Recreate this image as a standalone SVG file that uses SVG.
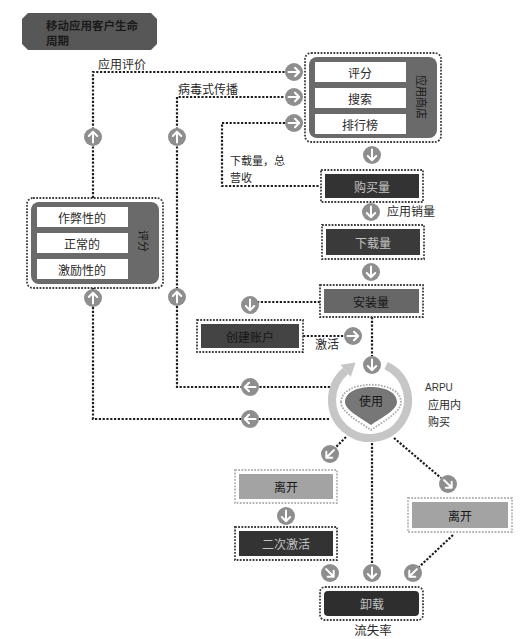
<svg xmlns="http://www.w3.org/2000/svg" width="532" height="639" viewBox="0 0 532 639">
<defs>
<style>
.t{font-family:"Noto Sans CJK SC","Noto Sans",sans-serif;font-size:12px;fill:#2a2a2a;text-anchor:middle;dominant-baseline:central}
.tl{fill:#c2c2c2}
.tk{fill:#161616}
.lb{font-family:"Noto Sans CJK SC","Noto Sans",sans-serif;font-size:12px;fill:#2a2a2a}
.sm{font-size:11px}
.dot{fill:none;stroke:#1e1e1e;stroke-width:2.2;stroke-dasharray:2.2 1.6}
.bd{fill:none;stroke:#3e3e3e;stroke-width:1.8;stroke-dasharray:1.8 1.4}
.bdl{fill:none;stroke:#b4b4b4;stroke-width:1.8;stroke-dasharray:1.8 1.4}
.wr{fill:#fff}
.pn{fill:#6a6a6a}
</style>
<g id="arr">
<circle r="9" fill="#8e8e8e"/>
<path d="M0,-5.5V5M-4.2,1L0,5.2L4.2,1" fill="none" stroke="#fff" stroke-width="2" stroke-linecap="round" stroke-linejoin="round"/>
</g>
</defs>
<rect width="532" height="639" fill="#fff"/>

<g id="title">
<polygon points="28,13 151,13 157,19 157,44 151,50 28,50 22,44 22,19" fill="#575757"/>
<text class="lb" x="46" y="30" style="font-weight:bold;font-size:11.5px;fill:#1a1a1a">移动应用客户生命</text>
<text class="lb" x="46" y="45" style="font-weight:bold;font-size:11.5px;fill:#1a1a1a">周期</text>
</g>

<g id="connectors">
<path class="dot" d="M93,198V72H285"/>
<path class="dot" d="M330,387H177V97H285"/>
<path class="dot" d="M93,288V419H330"/>
<path class="dot" d="M285,123H222V186H320"/>
<path class="dot" d="M320,302H258"/>
<path class="dot" d="M303,336H344"/>
<path class="dot" d="M372,317V356"/>
<path class="dot" d="M346,437L336,447"/>
<path class="dot" d="M372,443V564"/>
<path class="dot" d="M394,438L441,478"/>
<path class="dot" d="M453,535L419,567"/>
<use href="#arr" transform="translate(294,72) rotate(-90)"/>
<use href="#arr" transform="translate(294,97) rotate(-90)"/>
<use href="#arr" transform="translate(294,123) rotate(-90)"/>
<use href="#arr" transform="translate(353,336) rotate(-90)"/>
<use href="#arr" transform="translate(372,155)"/>
<use href="#arr" transform="translate(371,212)"/>
<use href="#arr" transform="translate(371,272)"/>
<use href="#arr" transform="translate(250,305)"/>
<use href="#arr" transform="translate(372,365)"/>
<use href="#arr" transform="translate(286,516)"/>
<use href="#arr" transform="translate(372,573)"/>
<use href="#arr" transform="translate(93,137) rotate(180)"/>
<use href="#arr" transform="translate(177,137) rotate(180)"/>
<use href="#arr" transform="translate(93,298) rotate(180)"/>
<use href="#arr" transform="translate(177,297) rotate(180)"/>
<use href="#arr" transform="translate(250,387) rotate(90)"/>
<use href="#arr" transform="translate(250,419) rotate(90)"/>
<use href="#arr" transform="translate(330,454) rotate(45)"/>
<use href="#arr" transform="translate(413,573) rotate(45)"/>
<use href="#arr" transform="translate(448,484) rotate(-45)"/>
<use href="#arr" transform="translate(330,573) rotate(-45)"/>
<text class="lb" x="98" y="69">应用评价</text>
<text class="lb" x="178" y="94">病毒式传播</text>
<text class="lb sm" x="230" y="165">下载量，总</text>
<text class="lb sm" x="230" y="182">营收</text>
<text class="lb" x="387" y="216">应用销量</text>
<text class="lb" x="315" y="349">激活</text>
<text class="lb" x="425" y="391" style="font-family:'Liberation Sans',sans-serif;font-size:10px;fill:#333">ARPU</text>
<text class="lb sm" x="428" y="409">应用内</text>
<text class="lb sm" x="428" y="426">购买</text>
</g>

<g id="app-store">
<rect class="bd" x="305" y="53" width="136" height="89" rx="6"/>
<rect class="pn" x="309" y="57" width="128" height="81" rx="8"/>
<rect class="wr" x="315" y="62" width="91" height="20"/>
<rect class="wr" x="315" y="88" width="91" height="20"/>
<rect class="wr" x="315" y="114" width="91" height="20"/>
<text class="t" x="360" y="72">评分</text>
<text class="t" x="360" y="98">搜索</text>
<text class="t" x="360" y="124">排行榜</text>
<text class="t tk" x="0" y="0" transform="translate(422,97) rotate(90)" style="font-size:11px">应用商店</text>
</g>

<g id="rating">
<rect class="bd" x="27" y="198" width="136" height="90" rx="6"/>
<rect class="pn" x="31" y="202" width="128" height="82" rx="8"/>
<rect class="wr" x="37" y="207" width="91" height="20"/>
<rect class="wr" x="37" y="233" width="91" height="20"/>
<rect class="wr" x="37" y="259" width="91" height="20"/>
<text class="t" x="82" y="217">作弊性的</text>
<text class="t" x="82" y="243">正常的</text>
<text class="t" x="82" y="269">激励性的</text>
<text class="t tk" x="0" y="0" transform="translate(144,241) rotate(90)" style="font-size:11px">评分</text>
</g>

<g id="purchase">
<rect class="bd" x="321" y="170" width="102" height="32"/>
<rect x="325" y="174" width="94" height="24" fill="#333"/>
<text class="t tl" x="372" y="186">购买量</text>
</g>

<g id="download">
<rect class="bd" x="322" y="225" width="102" height="34"/>
<rect x="326" y="229" width="94" height="26" fill="#3a3a3a"/>
<text class="t tl" x="373" y="242">下载量</text>
</g>

<g id="install">
<rect class="bd" x="320" y="285" width="103" height="32"/>
<rect x="324" y="289" width="95" height="24" fill="#676767"/>
<text class="t tk" x="371" y="301">安装量</text>
</g>

<g id="create-account">
<rect class="bd" x="197" y="320" width="106" height="32"/>
<rect x="201" y="324" width="98" height="24" fill="#444"/>
<text class="t tk" x="250" y="336">创建账户</text>
</g>

<g id="use">
<path d="M386.1,365.6A38,38 0 1 1 345.6,370.9" fill="none" stroke="#c6c6c6" stroke-width="8"/>
<polygon points="355.5,362.6 340.5,364.8 350.7,377" fill="#c6c6c6"/>
<path d="M341,402C341,379 401,379 401,402C401,412 384,421 371,430C358,421 341,412 341,402Z" fill="#fff" stroke="#a8a8a8" stroke-width="1.8" stroke-dasharray="1.6 1.4"/>
<path d="M345,402C345,382 397,382 397,402C397,410 381,418 371,425C361,418 345,410 345,402Z" fill="#777"/>
<text class="t tk" x="371" y="400">使用</text>
</g>

<g id="leave-left">
<rect class="bdl" x="235" y="470" width="102" height="33"/>
<rect x="239" y="474" width="94" height="25" fill="#a3a3a3"/>
<text class="t tk" x="286" y="486">离开</text>
</g>

<g id="reactivate">
<rect class="bd" x="235" y="527" width="102" height="33"/>
<rect x="239" y="531" width="94" height="25" fill="#333"/>
<text class="t tl" x="286" y="543">二次激活</text>
</g>

<g id="leave-right">
<rect class="bdl" x="408" y="498" width="104" height="34"/>
<rect x="412" y="502" width="96" height="26" fill="#a3a3a3"/>
<text class="t tk" x="460" y="515">离开</text>
</g>

<g id="uninstall">
<rect class="bd" x="320" y="587" width="103" height="33" rx="5"/>
<rect x="324" y="591" width="95" height="25" rx="4" fill="#2e2e2e"/>
<text class="t tl" x="372" y="603">卸载</text>
<text class="t" x="373" y="629" style="font-size:12.5px">流失率</text>
</g>
</svg>
